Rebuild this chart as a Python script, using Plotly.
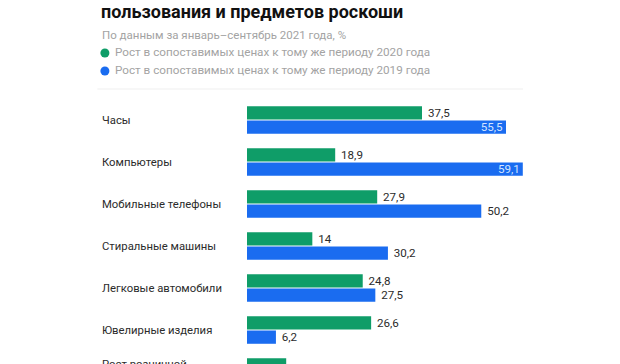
import plotly.graph_objects as go

# ---- data ----
categories = [
    "Часы",
    "Компьютеры",
    "Мобильные телефоны",
    "Стиральные машины",
    "Легковые автомобили",
    "Ювелирные изделия",
    "Рост розничной<br>торговли",
]
growth_vs_2020 = [37.5, 18.9, 27.9, 14, 24.8, 26.6, 8.4]
growth_vs_2019 = [55.5, 59.1, 50.2, 30.2, 27.5, 6.2, None]

series_names = [
    "Рост в сопоставимых ценах к тому же периоду 2020 года",
    "Рост в сопоставимых ценах к тому же периоду 2019 года",
]
title_text = "пользования и предметов роскоши"
subtitle_text = "По данным за январь–сентябрь 2021 года, %"

GREEN = "#0f9d68"
BLUE = "#1a6cf0"
TEXT = "#2b2b2b"
GREY = "#a3a3a3"
FONT = "Roboto, 'Open Sans', sans-serif"

W, H = 620, 364
OFF = 8  # page body margin of the browser

# geometry (window pixels)
px_per_unit = 4.67
x0_px = 246.7
x_max = 60
plot_w = x_max * px_per_unit
pitch = 42.0
first_center = 120.0
top_px = 92.0
bottom_px = 364.0
plot_h = bottom_px - top_px
y_top = (top_px - first_center) / pitch
y_bot = (bottom_px - first_center) / pitch


def PX(px):
    return (px - x0_px) / plot_w


def PY(py):
    return (bottom_px - py) / plot_h


def fmt(v):
    if v is None:
        return ""
    return f"{v:g}".replace(".", ",")


def labels(vals, inside_over=55):
    txt, pos = [], []
    for v in vals:
        if v is not None and v > inside_over:
            txt.append(fmt(v))
            pos.append("inside")
        else:
            txt.append("\u00a0" + fmt(v) if v is not None else "")
            pos.append("outside")
    return txt, pos


fig = go.Figure()
for vals, color, name in [(growth_vs_2020, GREEN, series_names[0]),
                          (growth_vs_2019, BLUE, series_names[1])]:
    txt, pos = labels(vals)
    fig.add_trace(go.Bar(
        x=vals, y=categories, orientation="h", name=name,
        marker=dict(color=color, line=dict(width=0)),
        text=txt, textposition=pos, insidetextanchor="end",
        outsidetextfont=dict(family=FONT, size=11.6, color=TEXT),
        insidetextfont=dict(family=FONT, size=11.6, color="#d3e4ff"),
        cliponaxis=False, showlegend=False, hoverinfo="skip",
    ))

# category labels, left aligned (paper coords so the partly cut last one shows)
for i, c in enumerate(categories):
    fig.add_annotation(
        x=PX(100), xref="paper", xanchor="left",
        y=PY(first_center + i * pitch), yref="paper", yanchor="middle",
        text=c, showarrow=False, align="left",
        font=dict(family=FONT, size=11.3, color=TEXT),
    )

# header: title, subtitle
fig.add_annotation(
    x=PX(99), xref="paper", xanchor="left",
    y=PY(12), yref="paper", yanchor="middle",
    text="<b>" + title_text + "</b>", showarrow=False,
    font=dict(family=FONT, size=18, color="#111111"),
)
fig.add_annotation(
    x=PX(100), xref="paper", xanchor="left",
    y=PY(35), yref="paper", yanchor="middle",
    text=subtitle_text, showarrow=False,
    font=dict(family=FONT, size=11.5, color=GREY),
)

# legend (round markers + text)
for name, color, cy in [(series_names[0], GREEN, 53), (series_names[1], BLUE, 71)]:
    fig.add_shape(
        type="circle", xref="paper", yref="paper",
        xsizemode="pixel", ysizemode="pixel",
        xanchor=PX(104.5), yanchor=PY(cy),
        x0=-4.5, x1=4.5, y0=-4.5, y1=4.5,
        fillcolor=color, line=dict(width=0),
    )
    fig.add_annotation(
        x=PX(113), xref="paper", xanchor="left",
        y=PY(cy - 0.5), yref="paper", yanchor="middle",
        text=name, showarrow=False,
        font=dict(family=FONT, size=11.7, color=GREY),
    )

# faint separator line under the header
fig.add_shape(type="line", xref="paper", yref="paper",
              x0=PX(97), x1=PX(523), y0=PY(89), y1=PY(89),
              line=dict(color="#efefef", width=1))

fig.update_layout(
    width=W, height=H,
    margin=dict(l=x0_px - OFF, r=W - (x0_px + plot_w - OFF),
                t=top_px - OFF, b=H - (bottom_px - OFF), pad=0,
                autoexpand=False),
    paper_bgcolor="white", plot_bgcolor="white",
    barmode="group", bargap=0.32, bargroupgap=0.07,
    uniformtext=dict(mode="show", minsize=11.6),
    xaxis=dict(range=[0, x_max], visible=False, fixedrange=True),
    yaxis=dict(range=[y_bot, y_top], visible=False, fixedrange=True,
               categoryorder="array", categoryarray=categories),
    showlegend=False,
    font=dict(family=FONT),
)

fig.write_html("out.html")
